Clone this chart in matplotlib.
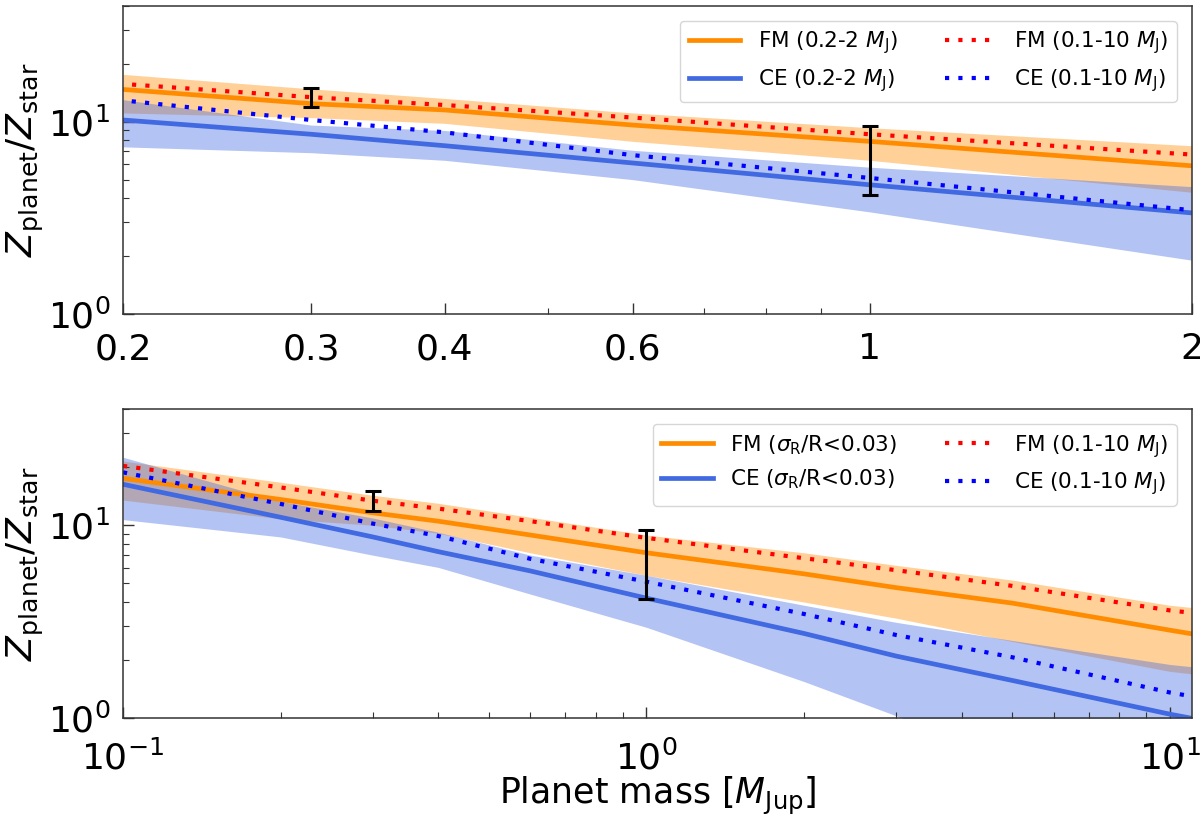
import numpy as np
import matplotlib
matplotlib.use("Agg")
import matplotlib.pyplot as plt
from matplotlib.ticker import FixedLocator, FixedFormatter, NullFormatter

# ---------------- data ----------------
# Top panel: fits over 0.2-2 M_J
mass_top = [0.2, 0.3, 0.4, 0.6, 1.0, 2.0]
fm_top_mid = [14.7, 12.4, 11.5, 9.6, 7.9, 5.9]
fm_top_hi = [17.6, 14.8, 13.2, 11.1, 9.3, 7.5]
fm_top_lo = [11.1, 10.5, 9.8, 7.9, 6.3, 4.3]
ce_top_mid = [10.2, 8.6, 7.5, 6.1, 4.7, 3.36]
ce_top_hi = [13.0, 9.6, 9.0, 7.1, 5.8, 4.6]
ce_top_lo = [7.4, 6.9, 6.3, 5.0, 3.4, 1.91]

# Bottom panel: fits for sigma_R/R < 0.03
mass_bot = [0.1, 0.2, 0.3, 0.4, 0.6, 1.0, 2.0, 3.0, 5.0, 10.0, 11.0]
fm_bot_mid = [17.5, 13.6, 11.6, 10.5, 8.9, 7.2, 5.6, 4.75, 3.95, 2.86, 2.74]
fm_bot_hi = [21.5, 16.7, 14.3, 13.0, 11.0, 8.9, 7.2, 6.2, 5.2, 3.85, 3.75]
fm_bot_lo = [13.5, 10.8, 10.0, 9.1, 7.2, 5.5, 4.0, 3.3, 2.5, 1.75, 1.7]
ce_bot_mid = [16.3, 11.0, 8.7, 7.3, 5.8, 4.19, 2.75, 2.1, 1.57, 1.05, 1.0]
ce_bot_hi = [22.5, 13.3, 10.9, 9.2, 7.0, 5.5, 3.85, 3.14, 2.53, 1.9, 1.85]
ce_bot_lo = [10.7, 8.7, 7.0, 6.05, 4.4, 2.96, 1.55, 1.03, 0.63, 0.32, 0.3]

# Dotted fits over 0.1-10 M_J (shown in both panels)
mass_all = [0.1, 0.2, 0.3, 0.4, 0.6, 1.0, 2.0, 3.0, 5.0, 10.0, 11.0]
fm_all = [20.3, 15.7, 13.4, 12.2, 10.5, 8.6, 6.75, 5.85, 4.85, 3.62, 3.52]
ce_all = [18.8, 12.9, 10.2, 8.8, 6.7, 5.1, 3.47, 2.7, 2.07, 1.36, 1.30]

# Error bars
err_mass = [0.3, 1.0]
err_lo = [11.9, 4.15]
err_hi = [15.0, 9.5]

top_labels = [r"FM (0.2-2 $M_{\rm J}$)", r"CE (0.2-2 $M_{\rm J}$)"]
bot_labels = [r"FM ($\sigma_{\rm R}$/R<0.03)", r"CE ($\sigma_{\rm R}$/R<0.03)"]
all_labels = [r"FM (0.1-10 $M_{\rm J}$)", r"CE (0.1-10 $M_{\rm J}$)"]

top_xticks = [0.2, 0.3, 0.4, 0.6, 1, 2]
top_xticklabels = ["0.2", "0.3", "0.4", "0.6", "1", "2"]
top_xminor = [0.5, 0.7, 0.8, 0.9]

# ---------------- style ----------------
ORANGE = "darkorange"
BLUE = "royalblue"
DOT = (0, (1, 2.2))

fig = plt.figure(figsize=(12, 8.24), dpi=100)
ax1 = fig.add_axes([0.1025, 0.6186, 0.8905, 0.3745])
ax2 = fig.add_axes([0.1025, 0.1283, 0.8905, 0.3753])


def draw(ax, x, fm_mid, fm_lo, fm_hi, ce_mid, ce_lo, ce_hi, labels):
    ax.fill_between(x, fm_lo, fm_hi, color=ORANGE, alpha=0.4, lw=0)
    ax.fill_between(x, ce_lo, ce_hi, color=BLUE, alpha=0.4, lw=0)
    l1, = ax.plot(x, fm_mid, color=ORANGE, lw=3.4, label=labels[0])
    l2, = ax.plot(x, ce_mid, color=BLUE, lw=3.4, label=labels[1])
    l3, = ax.plot(mass_all, fm_all, color="red", lw=3, ls=DOT, label=all_labels[0])
    l4, = ax.plot(mass_all, ce_all, color="blue", lw=3, ls=DOT, label=all_labels[1])
    mid = np.sqrt(np.array(err_lo) * np.array(err_hi))
    yerr = [mid - np.array(err_lo), np.array(err_hi) - mid]
    ax.errorbar(err_mass, mid, yerr=yerr, fmt="none", ecolor="black",
                elinewidth=2.2, capsize=5.5, capthick=2.2, zorder=5)
    ax.set_xscale("log")
    ax.set_yscale("log")
    ax.set_ylim(1, 40)
    ax.set_ylabel(r"$Z_{\rm planet}/Z_{\rm star}$", fontsize=26, labelpad=1)
    ax.tick_params(which="both", direction="in", labelsize=26, color="#333333")
    ax.tick_params(which="major", length=8, width=1)
    ax.tick_params(which="minor", length=4.5, width=0.8)
    ax.tick_params(axis="y", which="both", pad=9)
    for s in ax.spines.values():
        s.set_color("#333333")
        s.set_linewidth(1.1)
    ax.legend(handles=[l1, l2, l3, l4], ncol=2, fontsize=15.5,
              loc="upper right", handlelength=2.4, columnspacing=2.2,
              borderaxespad=0.7)


draw(ax1, mass_top, fm_top_mid, fm_top_lo, fm_top_hi,
     ce_top_mid, ce_top_lo, ce_top_hi, top_labels)
ax1.set_xlim(0.2, 2)
ax1.xaxis.set_major_locator(FixedLocator(top_xticks))
ax1.xaxis.set_major_formatter(FixedFormatter(top_xticklabels))
ax1.xaxis.set_minor_locator(FixedLocator(top_xminor))
ax1.xaxis.set_minor_formatter(NullFormatter())
ax1.tick_params(axis="x", which="both", pad=13)

draw(ax2, mass_bot, fm_bot_mid, fm_bot_lo, fm_bot_hi,
     ce_bot_mid, ce_bot_lo, ce_bot_hi, bot_labels)
ax2.set_xlim(0.1, 11)
ax2.tick_params(axis="x", which="both", pad=16)
ax2.set_xlabel(r"Planet mass [$M_{\rm Jup}$]", fontsize=25, labelpad=-1)

fig.savefig("out.png", dpi=100)
